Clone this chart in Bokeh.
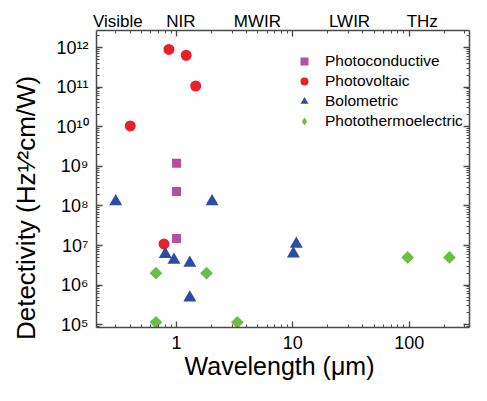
import math
from bokeh.plotting import figure
from bokeh.models import (FixedTicker, LogAxis, Legend, LegendItem, Range1d,
                          CustomJSTickFormatter)
from bokeh.embed import file_html
from bokeh.resources import INLINE

# ---------------- data ----------------
pc_wavelength = [1.0, 1.0, 1.0]
pc_detectivity = [1.2e9, 2.3e8, 1.5e7]

pv_wavelength = [0.86, 1.21, 1.46, 0.40, 0.78]
pv_detectivity = [9.0e11, 6.4e11, 1.07e11, 1.05e10, 1.1e7]

bolo_wavelength = [0.30, 2.02, 0.80, 0.95, 1.30, 1.30, 10.7, 10.1]
bolo_detectivity = [1.3e8, 1.3e8, 6.0e6, 4.3e6, 3.6e6, 4.8e5, 1.1e7, 6.2e6]

pte_wavelength = [0.665, 1.81, 0.665, 3.33, 97.0, 222.0]
pte_detectivity = [2.0e6, 2.0e6, 1.15e5, 1.15e5, 5.0e6, 5.0e6]

series_names = ["Photoconductive", "Photovoltaic", "Bolometric", "Photothermoelectric"]

band_labels = ["Visible", "NIR", "MWIR", "LWIR", "THz"]
band_centers = [0.313, 1.09, 4.95, 30.7, 129.5]

x_major_ticks = [1, 10, 100]
x_tick_labels = ["1", "10", "100"]
y_major_ticks = [1e5, 1e6, 1e7, 1e8, 1e9, 1e10, 1e11, 1e12]
y_tick_labels = ["10\u2075", "10\u2076", "10\u2077", "10\u2078", "10\u2079",
                 "10\u00b9\u2070", "10\u00b9\u00b9", "10\u00b9\u00b2"]

x_minor = [k * 10.0 ** n for n in range(-1, 3) for k in range(2, 10)]
y_minor = [k * 10.0 ** n for n in range(4, 13) for k in range(2, 10)]

FONT = "Liberation Sans"
AX = "#4a4a4a"
NB = "\u00a0"

p = figure(width=471, height=385, x_axis_type="log", y_axis_type="log",
           x_range=Range1d(0.205, 330), y_range=Range1d(8.5e4, 2.7e12),
           output_backend="svg", toolbar_location=None,
           min_border_left=96, min_border_right=2, min_border_top=30, min_border_bottom=58)
p.outline_line_color = None
p.xgrid.visible = False
p.ygrid.visible = False
p.background_fill_color = "white"
p.border_fill_color = "white"

xt = FixedTicker(ticks=x_major_ticks, minor_ticks=x_minor)
yt = FixedTicker(ticks=y_major_ticks, minor_ticks=y_minor)


def style_axis(ax):
    ax.axis_line_color = AX
    ax.axis_line_width = 1.5
    ax.major_tick_line_color = AX
    ax.minor_tick_line_color = AX
    ax.major_tick_line_width = 1.3
    ax.minor_tick_line_width = 1.0
    ax.major_tick_in = 6
    ax.major_tick_out = 0
    ax.minor_tick_in = 3
    ax.minor_tick_out = 0
    ax.major_label_text_font = FONT
    ax.major_label_text_color = "black"
    ax.axis_label_text_font = FONT
    ax.axis_label_text_font_style = "normal"
    ax.axis_label_text_color = "black"


def empty():
    return CustomJSTickFormatter(code="return ''")


xa = p.xaxis[0]
xa.ticker = xt
xa.formatter = empty()
xa.major_label_overrides = dict(zip(x_major_ticks, x_tick_labels))
style_axis(xa)
xa.major_label_text_font_size = "18px"
xa.major_label_standoff = 8
xa.axis_label = "Wavelength  (\u03bcm)"
xa.axis_label_text_font_size = "25px"
xa.axis_label_standoff = 0

ya = p.yaxis[0]
ya.ticker = yt
ya.formatter = empty()
ya.major_label_overrides = dict(zip(y_major_ticks, y_tick_labels))
style_axis(ya)
ya.major_label_text_font_size = "18px"
ya.major_label_standoff = 8
ya.axis_label = "Detectivity  (Hz\u00b9\u2044\u00b2cm/W)" + NB * 7 + "\u200b"
ya.axis_label_text_font_size = "26px"
ya.axis_label_standoff = 12

# top axis: ticks only
top = LogAxis(ticker=xt, formatter=empty())
style_axis(top)
top.major_label_text_font_size = "1px"
top.major_label_standoff = 0
p.add_layout(top, "above")

# band names above the frame
bands = LogAxis(ticker=FixedTicker(ticks=band_centers, minor_ticks=[]), formatter=empty())
bands.major_label_overrides = dict(zip(band_centers, band_labels))
bands.axis_line_color = None
bands.major_tick_line_color = None
bands.minor_tick_line_color = None
bands.major_tick_in = 0
bands.major_tick_out = 0
bands.major_label_standoff = 0
bands.major_label_text_font = FONT
bands.major_label_text_font_size = "17px"
bands.major_label_text_color = "black"
p.add_layout(bands, "above")

right = LogAxis(ticker=yt, formatter=empty())
style_axis(right)
right.major_label_text_font_size = "1px"
right.major_label_standoff = 0
p.add_layout(right, "right")

r_pc = p.scatter(pc_wavelength, pc_detectivity, marker="square", size=9,
                 fill_color="#B5509F", line_color=None)
r_pv = p.scatter(pv_wavelength, pv_detectivity, marker="circle", size=11,
                 fill_color="#E8202A", line_color=None)
r_bo = p.scatter(bolo_wavelength, bolo_detectivity, marker="triangle", size=13,
                 fill_color="#2D4DA2", line_color=None)
# diamond shape used for the legend entry (hidden under the rotated squares)
r_pt_key = p.scatter(pte_wavelength, pte_detectivity, marker="diamond", size=9,
                     fill_color="#6ABD45", line_color=None)
r_pt = p.scatter(pte_wavelength, pte_detectivity, marker="square", size=9, angle=math.pi / 4,
                 fill_color="#6ABD45", line_color=None)

legend = Legend(items=[LegendItem(label=n, renderers=[r])
                       for n, r in zip(series_names, [r_pc, r_pv, r_bo, r_pt_key])],
                location=(196, 196))
legend.border_line_color = None
legend.background_fill_alpha = 0
legend.padding = 0
legend.margin = 0
legend.glyph_width = 24
legend.glyph_height = 20
legend.label_height = 20
legend.spacing = 0
legend.label_standoff = 9
legend.label_text_font = FONT
legend.label_text_font_size = "15.5px"
legend.label_text_color = "black"
p.add_layout(legend)

open("out.html", "w").write(file_html(p, INLINE))
